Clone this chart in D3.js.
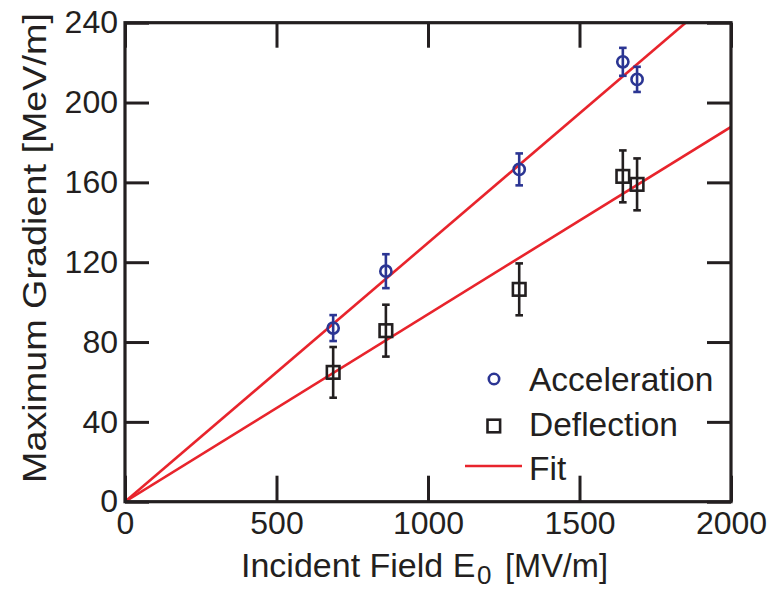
<!DOCTYPE html>
<html>
<head>
<meta charset="utf-8">
<script src="https://cdn.jsdelivr.net/npm/d3@7"></script>
<style>
  html, body { margin: 0; padding: 0; background: #fff; }
  svg { display: block; font-family: "Liberation Sans", Arial, sans-serif; }
</style>
</head>
<body>
<svg id="chart" width="780" height="592"></svg>
<script>
// Incident field E0 [MV/m] for each measurement
const fieldValues = [687, 861, 1301, 1643, 1690];
// Acceleration gradient [MeV/m] and its uncertainty
const accelValues = [87, 115.5, 166.5, 220.4, 211.6];
const accelErrors = [6.5, 8.5, 8, 7, 6.3];
// Deflection gradient [MeV/m] and its uncertainty
const deflValues = [64.8, 85.7, 106.4, 163, 159];
const deflErrors = [12.7, 13, 13, 13, 13];
// Linear fit slopes (gradient per unit incident field)
const fitSlopes = [0.1297, 0.0939];
const xTicks = [0, 500, 1000, 1500, 2000];
const yTicks = [0, 40, 80, 120, 160, 200, 240];
const legendLabels = ["Acceleration", "Deflection", "Fit"];

const INK = "#231f20", BLUE = "#2b3593", RED = "#e8242c";
const svg = d3.select("#chart");
const m = { left: 125, right: 49, top: 22.7, bottom: 90.3 };
const W = 780, H = 592;
const x = d3.scaleLinear().domain([0, 2000]).range([m.left, W - m.right]);
const y = d3.scaleLinear().domain([0, 240]).range([H - m.bottom, m.top]);

svg.append("clipPath").attr("id", "plotClip")
  .append("rect")
  .attr("x", x(0)).attr("y", y(240))
  .attr("width", x(2000) - x(0)).attr("height", y(0) - y(240));

// Fit lines through the origin
const fitLine = d3.line().x(d => x(d[0])).y(d => y(d[1]));
svg.append("g").attr("clip-path", "url(#plotClip)")
  .selectAll("path").data(fitSlopes).join("path")
  .attr("d", s => fitLine([[0, 0], [2000, 2000 * s]]))
  .attr("fill", "none").attr("stroke", RED).attr("stroke-width", 2.6);

// Error bars
function errorBars(vals, errs, color) {
  const g = svg.append("g").attr("stroke", color).attr("stroke-width", 2.6).attr("fill", "none");
  const rows = fieldValues.map((f, i) => ({ f, v: vals[i], e: errs[i] }));
  g.selectAll("line.v").data(rows).join("line").attr("class", "v")
    .attr("x1", d => x(d.f)).attr("x2", d => x(d.f))
    .attr("y1", d => y(d.v + d.e)).attr("y2", d => y(d.v - d.e));
  ["top", "bot"].forEach(k => {
    g.selectAll("line." + k).data(rows).join("line").attr("class", k)
      .attr("x1", d => x(d.f) - 3.8).attr("x2", d => x(d.f) + 3.8)
      .attr("y1", d => y(k === "top" ? d.v + d.e : d.v - d.e))
      .attr("y2", d => y(k === "top" ? d.v + d.e : d.v - d.e));
  });
}
errorBars(deflValues, deflErrors, INK);
errorBars(accelValues, accelErrors, BLUE);

// Deflection markers: open squares
svg.append("g").selectAll("rect").data(fieldValues).join("rect")
  .attr("x", (f) => x(f) - 6.3).attr("y", (f, i) => y(deflValues[i]) - 6.3)
  .attr("width", 12.6).attr("height", 12.6)
  .attr("fill", "none").attr("stroke", INK).attr("stroke-width", 2.6);

// Acceleration markers: open circles
svg.append("g").selectAll("circle").data(fieldValues).join("circle")
  .attr("cx", f => x(f)).attr("cy", (f, i) => y(accelValues[i])).attr("r", 5.6)
  .attr("fill", "none").attr("stroke", BLUE).attr("stroke-width", 2.6);

// Axes with inward ticks on all four sides
function styleAxis(g) {
  g.select(".domain").remove();
  g.selectAll(".tick line").attr("stroke", INK).attr("stroke-width", 3);
  g.selectAll(".tick text").attr("fill", INK).attr("font-size", 32)
    .attr("font-family", "Liberation Sans, Arial, sans-serif");
}
svg.append("g").attr("transform", `translate(0,${y(0)})`)
  .call(d3.axisBottom(x).tickValues(xTicks).tickSize(-26).tickPadding(10).tickFormat(d3.format("d")))
  .call(styleAxis);
svg.append("g").attr("transform", `translate(0,${y(240)})`)
  .call(d3.axisTop(x).tickValues(xTicks).tickSize(-25).tickFormat(""))
  .call(styleAxis);
svg.append("g").attr("transform", `translate(${x(0)},0)`)
  .call(d3.axisLeft(y).tickValues(yTicks).tickSize(-24).tickPadding(7).tickFormat(d3.format("d")))
  .call(styleAxis);
svg.append("g").attr("transform", `translate(${x(2000)},0)`)
  .call(d3.axisRight(y).tickValues(yTicks).tickSize(-24).tickFormat(""))
  .call(styleAxis);

// Frame
svg.append("rect")
  .attr("x", x(0)).attr("y", y(240))
  .attr("width", x(2000) - x(0)).attr("height", y(0) - y(240))
  .attr("fill", "none").attr("stroke", INK).attr("stroke-width", 3.2);

// Axis titles
const xTitle = svg.append("g").attr("fill", INK);
xTitle.append("text").attr("x", 241).attr("y", 577).attr("font-size", 34)
  .text("Incident Field E");
xTitle.append("text").attr("x", 477).attr("y", 584).attr("font-size", 26)
  .text("0");
xTitle.append("text").attr("x", 505).attr("y", 577).attr("font-size", 34)
  .attr("textLength", 103).attr("lengthAdjust", "spacingAndGlyphs")
  .text("[MV/m]");

svg.append("text")
  .attr("transform", "translate(46,248) rotate(-90)")
  .attr("text-anchor", "middle").attr("font-size", 34).attr("fill", INK)
  .attr("textLength", 470).attr("lengthAdjust", "spacingAndGlyphs")
  .text("Maximum Gradient [MeV/m]");

// Legend
const lg = svg.append("g");
const ly = [379, 426, 466];
lg.append("circle").attr("cx", 494).attr("cy", ly[0]).attr("r", 5.2)
  .attr("fill", "none").attr("stroke", BLUE).attr("stroke-width", 2.6);
lg.append("rect").attr("x", 487.5).attr("y", ly[1] - 6.3).attr("width", 12.6).attr("height", 12.6)
  .attr("fill", "none").attr("stroke", INK).attr("stroke-width", 2.6);
lg.append("line").attr("x1", 465).attr("x2", 522).attr("y1", ly[2]).attr("y2", ly[2])
  .attr("stroke", RED).attr("stroke-width", 2.6);
lg.selectAll("text").data(legendLabels).join("text")
  .attr("x", 529).attr("y", (d, i) => [391, 436, 480][i])
  .attr("font-size", 33.5).attr("fill", INK).text(d => d);
</script>
</body>
</html>
